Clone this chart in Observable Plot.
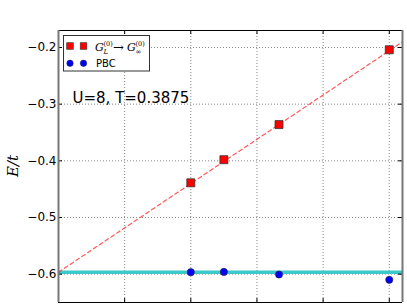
<!DOCTYPE html>
<html>
<head>
<meta charset="utf-8">
<script src="https://cdn.jsdelivr.net/npm/d3@7"></script>
<script src="https://cdn.jsdelivr.net/npm/@observablehq/plot@0.6"></script>
<style>
  html, body { margin: 0; padding: 0; background: #fff; }
  #chart svg { display: block; }
</style>
</head>
<body>
<div id="chart"></div>
<script>
// ---- data ----
const invL = [1/10, 1/8, 1/6, 1/4];              // x = 1/L, L = 10, 8, 6, 4
const energyG = [-0.4388, -0.398, -0.336, -0.204]; // G_L^(0) -> G_inf^(0)
const energyPBC = [-0.5965, -0.596, -0.6006, -0.6099]; // PBC
const fitX = [0, 0.26];                          // dashed linear fit ends
const fitY = [-0.5965, -0.190];
const bandY = [-0.5965];                         // cyan reference level
const xTicks = [0.05, 0.10, 0.15, 0.20, 0.25];
const yTicks = [-0.6, -0.5, -0.4, -0.3, -0.2];
const xDomain = [0, 0.26];
const yDomain = [-0.65, -0.17];
const annotation = "U=8, T=0.3875";

const W = 407, H = 307;
const mL = 58, mR = 5, mT = 30, mB = 5;
const innerW = W - mL - mR, innerH = H - mT - mB;
const tickLen = 4;

const sq = invL.map((x, i) => ({x, y: energyG[i]}));
const pbc = invL.map((x, i) => ({x, y: energyPBC[i]}));
const fit = fitX.map((x, i) => ({x, y: fitY[i]}));

const plot = Plot.plot({
  width: W, height: H,
  marginLeft: mL, marginRight: mR, marginTop: mT, marginBottom: mB,
  style: {fontFamily: "DejaVu Sans", fontSize: "12px", background: "#fff", color: "#000"},
  x: {domain: xDomain, axis: null},
  y: {domain: yDomain, axis: null},
  marks: [
    Plot.gridX(xTicks, {stroke: "#888", strokeOpacity: 1, strokeDasharray: "1,2"}),
    Plot.gridY(yTicks, {stroke: "#888", strokeOpacity: 1, strokeDasharray: "1,2"}),
    Plot.ruleY(bandY, {stroke: "#3cc9c9", strokeWidth: 3.5}),
    Plot.line(fit, {x: "x", y: "y", stroke: "#ff3030", strokeOpacity: 0.8, strokeWidth: 1.2, strokeDasharray: "4,3"}),
    Plot.dot(sq, {x: "x", y: "y", symbol: "square", r: 4.5, fill: "#ff0000", stroke: "#333", strokeWidth: 0.8}),
    Plot.dot(pbc, {x: "x", y: "y", symbol: "circle", r: 3.6, fill: "#0000ff", stroke: "#222", strokeWidth: 0.6}),
    // inward ticks
    Plot.tickY(yTicks, {y: d => d, insetRight: innerW - tickLen, stroke: "#000"}),
    Plot.tickY(yTicks, {y: d => d, insetLeft: innerW - tickLen, stroke: "#000"}),
    Plot.tickX(xTicks, {x: d => d, insetTop: innerH - tickLen, stroke: "#000"}),
    Plot.tickX(xTicks, {x: d => d, insetBottom: innerH - tickLen, stroke: "#000"}),
    // frame
    Plot.ruleY([yDomain[1]], {stroke: "#000", strokeWidth: 1}),
    Plot.ruleY([yDomain[0]], {stroke: "#000", strokeWidth: 1}),
    Plot.ruleX(xDomain, {stroke: "#777", strokeWidth: 2}),
    Plot.axisY(yTicks, {anchor: "left", tickSize: 0, tickPadding: 2, fontSize: 12,
      tickFormat: d3.format(".1f"), label: null}),
    Plot.text([annotation], {frameAnchor: "top-left", dx: 14, dy: 62, fontSize: 15, textAnchor: "start", fill: "#000"})
  ]
});

document.getElementById("chart").appendChild(plot);

// ---- decorations: y label and legend ----
const svg = d3.select(plot);
svg.append("text")
  .attr("transform", `translate(18,${mT + innerH/2}) rotate(-90)`)
  .attr("text-anchor", "middle")
  .attr("font-family", "DejaVu Serif").attr("font-style", "italic").attr("font-size", 15)
  .text("E/t");

const lg = svg.append("g").attr("text-anchor", "start");
lg.append("rect").attr("x", 63.5).attr("y", 35.5).attr("width", 86).attr("height", 35.5)
  .attr("fill", "#fff").attr("stroke", "#333").attr("stroke-width", 1);
[70, 83.5].forEach(cx => {
  lg.append("rect").attr("x", cx - 3.3).attr("y", 46 - 3.3).attr("width", 6.6).attr("height", 6.6)
    .attr("fill", "#ff0000").attr("stroke", "#333").attr("stroke-width", 0.6);
  lg.append("circle").attr("cx", cx).attr("cy", 63.3).attr("r", 3.2)
    .attr("fill", "#0000ff").attr("stroke", "#222").attr("stroke-width", 0.5);
});
const serif = (t, x, y, size, italic) => lg.append("text").attr("x", x).attr("y", y)
  .attr("text-anchor", "start")
  .attr("font-family", "DejaVu Serif").attr("font-style", italic ? "italic" : "normal")
  .attr("font-size", size).attr("fill", "#000").text(t);
serif("G", 95, 51, 11, true);
serif("(0)", 103.5, 46, 6.5, false);
serif("L", 103.5, 54, 7, true);
serif("→", 113, 51.5, 13, false);
serif("G", 127, 51, 11, true);
serif("(0)", 135.5, 46, 6.5, false);
serif("∞", 135.5, 54, 7, false);
lg.append("text").attr("x", 96).attr("y", 66.5).attr("text-anchor", "start")
  .attr("font-family", "DejaVu Sans").attr("font-size", 10).attr("fill", "#000").text("PBC");
</script>
</body>
</html>
